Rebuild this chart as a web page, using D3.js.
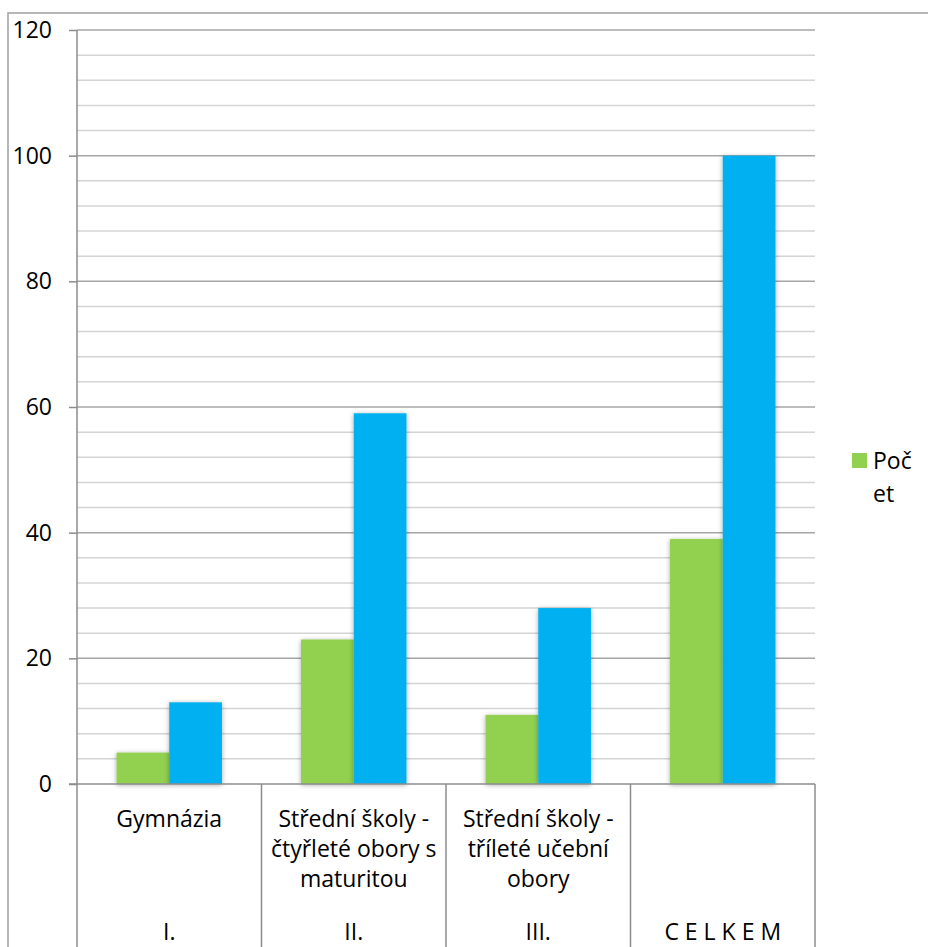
<!DOCTYPE html>
<meta charset="utf-8">
<style>
body { margin: 0; background: #fff; }
svg { display: block; font-family: "Open Sans", "Noto Sans", sans-serif; }
.bar1 { fill: #92d050; }
.bar2 { fill: #00b0f0; }
.grid-minor { stroke: #d4d4d4; stroke-width: 1.5px; }
.grid-major { stroke: #a6a6a6; stroke-width: 1.5px; }
.axis-line { stroke: #8c8c8c; stroke-width: 1.5px; }
.lbl { font-size: 23px; fill: #000; }
</style>
<svg width="928" height="947"></svg>
<script src="https://d3js.org/d3.v7.min.js"></script>
<script>

var categories = ["Gymnázia", "Střední školy - čtyřleté obory s maturitou", "Střední školy - tříleté učební obory", ""];
var catLines = [["Gymnázia"], ["Střední školy -", "čtyřleté obory s", "maturitou"], ["Střední školy -", "tříleté učební", "obory"], []];
var groups = ["I.", "II.", "III.", "C E L K E M"];
var pocet = [5, 23, 11, 39];
var second = [13, 59, 28, 100];
var yTicks = [0, 20, 40, 60, 80, 100, 120];
var legendLines = ["Poč", "et"];

var svg = d3.select("svg"),
    margin = {top: 30, left: 77},
    width = 738,
    height = 754;

// chart frame (cropped at right and bottom)
svg.append("rect")
    .attr("x", 8).attr("y", 13)
    .attr("width", 940).attr("height", 960)
    .attr("fill", "none")
    .attr("stroke", "#a0a0a0")
    .attr("stroke-width", 1.5);

var x = d3.scaleBand().domain(d3.range(categories.length)).range([0, width]);
// gap width 150%
var x1 = d3.scaleBand().domain([0, 1]).range([0, x.bandwidth()]).paddingOuter(0.75).paddingInner(0);
var y = d3.scaleLinear().domain([0, 120]).range([height, 0]);

var defs = svg.append("defs");
var f = defs.append("filter").attr("id", "shadow")
    .attr("x", "-30%").attr("y", "-20%").attr("width", "160%").attr("height", "140%");
f.append("feDropShadow").attr("dx", 0).attr("dy", 1).attr("stdDeviation", 2.5)
    .attr("flood-color", "#000").attr("flood-opacity", 0.35);

var g = svg.append("g")
    .attr("transform", "translate(" + margin.left + "," + margin.top + ")");

// gridlines every 4
var gridVals = d3.range(4, 121, 4);
g.selectAll(".gl")
    .data(gridVals)
  .enter().append("line")
    .attr("class", function(d) { return d % 20 === 0 ? "grid-major" : "grid-minor"; })
    .attr("x1", 0).attr("x2", width)
    .attr("y1", function(d) { return y(d); })
    .attr("y2", function(d) { return y(d); });

// y axis
var yAxis = g.append("g")
    .call(d3.axisLeft(y).tickValues(yTicks).tickSize(8).tickPadding(17));
yAxis.attr("font-size", null).attr("font-family", null);
yAxis.select(".domain").remove();
yAxis.selectAll(".tick line").attr("class", "axis-line").attr("stroke", null);
yAxis.selectAll(".tick text").attr("class", "lbl").attr("fill", null);

g.append("line").attr("class", "axis-line")
    .attr("x1", 0).attr("x2", 0).attr("y1", 0).attr("y2", height);

// bars
var cats = g.selectAll(".cat")
    .data(categories)
  .enter().append("g")
    .attr("transform", function(d, i) { return "translate(" + x(i) + ",0)"; });

cats.append("rect")
    .attr("class", "bar1")
    .attr("filter", "url(#shadow)")
    .attr("x", x1(0))
    .attr("width", x1.bandwidth())
    .attr("y", function(d, i) { return y(pocet[i]); })
    .attr("height", function(d, i) { return height - y(pocet[i]); });

cats.append("rect")
    .attr("class", "bar2")
    .attr("filter", "url(#shadow)")
    .attr("x", x1(1))
    .attr("width", x1.bandwidth())
    .attr("y", function(d, i) { return y(second[i]); })
    .attr("height", function(d, i) { return height - y(second[i]); });

// x axis baseline + dividers
g.append("line").attr("class", "axis-line")
    .attr("x1", -8).attr("x2", width).attr("y1", height).attr("y2", height);

g.selectAll(".div")
    .data(d3.range(categories.length + 1))
  .enter().append("line")
    .attr("class", "axis-line")
    .attr("x1", function(d) { return d * x.step(); })
    .attr("x2", function(d) { return d * x.step(); })
    .attr("y1", height).attr("y2", height + 200);

// category labels
cats.append("text")
    .attr("class", "lbl")
    .attr("text-anchor", "middle")
    .attr("y", height + 43)
    .selectAll("tspan")
    .data(function(d, i) { return catLines[i]; })
  .enter().append("tspan")
    .attr("x", x.bandwidth() / 2)
    .attr("dy", function(d, j) { return j === 0 ? 0 : 30; })
    .text(function(d) { return d; });

cats.append("text")
    .attr("class", "lbl")
    .attr("text-anchor", "middle")
    .attr("x", x.bandwidth() / 2)
    .attr("y", height + 156)
    .text(function(d, i) { return groups[i]; });

// legend
var lg = svg.append("g").attr("transform", "translate(852,453)");
lg.append("rect").attr("width", 15).attr("height", 15).attr("fill", "#92d050");
lg.append("text")
    .attr("class", "lbl")
    .attr("y", 16)
    .selectAll("tspan")
    .data(legendLines)
  .enter().append("tspan")
    .attr("x", 21)
    .attr("dy", function(d, j) { return j === 0 ? 0 : 33; })
    .text(function(d) { return d; });

</script>
